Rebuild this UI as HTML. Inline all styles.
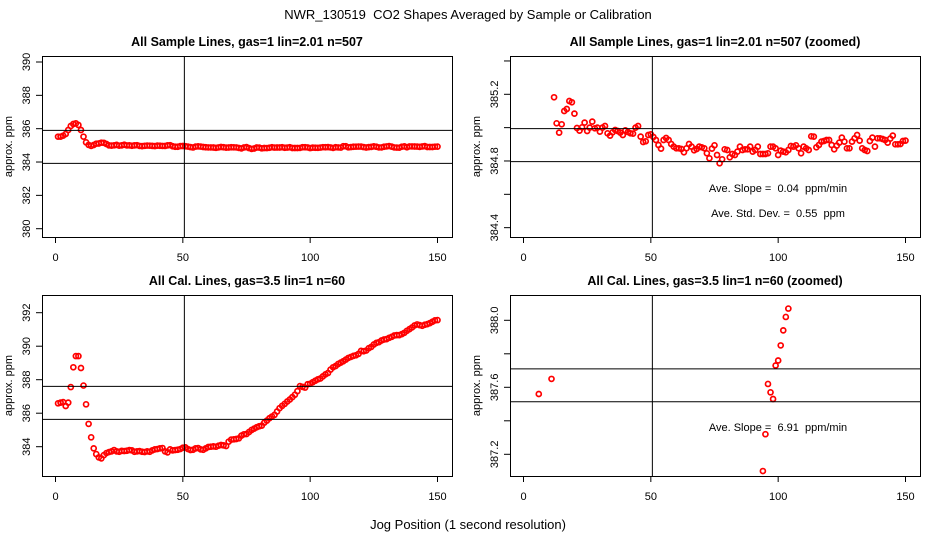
<!DOCTYPE html>
<html><head><meta charset="utf-8"><style>
html,body{margin:0;padding:0;background:#fff;overflow:hidden;width:936px;height:540px;position:relative;}
svg{display:block;position:absolute;left:0;top:0;font-family:"Liberation Sans",sans-serif;overflow:hidden;}
text{white-space:pre;}
</style></head><body>
<svg id="c" width="936" height="540" viewBox="0 0 936 540">
<text x="468" y="19" text-anchor="middle" font-size="13">NWR_130519  CO2 Shapes Averaged by Sample or Calibration</text>
<text x="468" y="529" text-anchor="middle" font-size="13">Jog Position (1 second resolution)</text>
</svg>
<script>
const sampleEarly = [385.52,385.52,385.58,385.68,385.92,386.16,386.28,386.32,386.22,385.92,385.52];
const sampleLate = [385.182,385.026,384.97,385.02,385.1,385.112,385.16,385.152,385.084,384.998,
384.982,385.002,385.03,384.98,385.0,385.036,384.996,385.0,384.976,385.0,
385.01,384.966,384.952,384.972,384.986,384.98,384.97,384.956,384.984,384.974,
384.966,384.964,385.0,385.01,384.946,384.914,384.918,384.956,384.96,384.944,
384.926,384.896,384.874,384.926,384.938,384.926,384.902,384.886,384.876,384.876,
384.872,384.852,384.876,384.902,384.886,384.864,384.872,384.886,384.882,384.876,
384.846,384.816,384.874,384.894,384.836,384.786,384.81,384.87,384.866,384.822,
384.842,384.836,384.856,384.886,384.866,384.87,384.87,384.886,384.856,384.866,
384.886,384.842,384.842,384.842,384.846,384.886,384.886,384.876,384.836,384.862,
384.856,384.852,384.866,384.89,384.886,384.894,384.876,384.846,384.886,384.876,
384.866,384.948,384.946,384.882,384.896,384.916,384.92,384.926,384.926,384.896,
384.87,384.892,384.91,384.94,384.916,384.876,384.876,384.916,384.936,384.956,
384.922,384.876,384.866,384.86,384.92,384.94,384.886,384.936,384.936,384.932,
384.926,384.91,384.934,384.952,384.9,384.9,384.902,384.92,384.922];
const sampleValues = sampleEarly.concat(sampleLate);
const calValues = [386.59,386.63,386.66,386.43,386.63,387.56,388.74,389.41,389.41,388.70,387.65,386.53,385.36,384.56,383.90,383.56,383.36,383.30,383.50,
383.62,383.68,383.72,383.80,383.72,383.70,383.75,383.74,383.76,383.80,383.78,383.70,383.72,383.74,383.70,383.68,383.72,383.70,383.78,383.84,383.86,
383.90,383.92,383.72,383.66,383.84,383.78,383.80,383.82,383.86,383.94,383.96,383.86,383.80,383.82,383.90,383.92,383.84,383.82,383.90,383.98,
384.00,384.02,384.00,384.06,384.10,384.08,384.04,384.30,384.42,384.44,384.46,384.50,384.66,384.74,384.76,384.88,385.00,385.08,385.16,385.22,
385.26,385.44,385.56,385.70,385.80,385.90,386.10,386.30,386.44,386.56,386.70,386.82,386.96,
387.10,387.32,387.62,387.57,387.53,387.73,387.76,387.85,387.94,388.02,388.07,
388.20,388.32,388.40,388.60,388.74,388.82,388.94,389.02,389.10,389.20,389.30,389.36,389.42,389.46,389.54,389.72,389.70,389.74,389.88,389.96,390.10,390.20,390.24,390.34,390.40,390.42,390.50,390.56,390.64,390.66,390.66,390.72,390.80,390.92,391.02,391.12,391.24,391.30,391.26,391.22,391.28,391.32,391.38,391.46,391.54,391.56];
const jogPositions = sampleValues.map((v,i)=>i+1);
const xTicks = [0,50,100,150];
const yTicksSample = [380,382,384,386,388,390];
const yTicksSampleZoom = [384.4,384.6,384.8,385.0,385.2,385.4];
const yLabelsSampleZoom = ['384.4','','384.8','','385.2',''];
const yTicksCal = [384,386,388,390,392];
const yTicksCalZoom = [387.2,387.4,387.6,387.8,388.0];
const yLabelsCalZoom = ['387.2','','387.6','','388.0'];

const NS='http://www.w3.org/2000/svg';
const svg=document.getElementById('c');
function mk(tag,attrs,parent){const e=document.createElementNS(NS,tag);for(const k in attrs)e.setAttribute(k,attrs[k]);(parent||svg).appendChild(e);return e;}

const panels=[
 {name:'sample',title:'All Sample Lines, gas=1 lin=2.01 n=507',L:42,R:452,T:56,B:237,x0:55.5,y0v:390,y0p:62,ppu:16.67,vals:sampleValues,ticks:yTicksSample,labels:yTicksSample.map(String),h:[385.9,383.92],notes:[]},
 {name:'sample-zoomed',title:'All Sample Lines, gas=1 lin=2.01 n=507 (zoomed)',L:510,R:920,T:56,B:237,x0:523.5,y0v:385.2,y0p:94.3,ppu:166.7,vals:sampleValues,ticks:yTicksSampleZoom,labels:yLabelsSampleZoom,h:[384.994,384.796],notes:[['Ave. Slope =  0.04  ppm/min',192,'slope-note'],['Ave. Std. Dev. =  0.55  ppm',217,'std-dev-note']]},
 {name:'cal',title:'All Cal. Lines, gas=3.5 lin=1 n=60',L:42,R:452,T:295,B:476,x0:55.5,y0v:392,y0p:312.7,ppu:16.75,vals:calValues,ticks:yTicksCal,labels:yTicksCal.map(String),h:[387.6,385.63],notes:[]},
 {name:'cal-zoomed',title:'All Cal. Lines, gas=3.5 lin=1 n=60 (zoomed)',L:510,R:920,T:295,B:476,x0:523.5,y0v:388.0,y0p:320.3,ppu:167.5,vals:calValues,ticks:yTicksCalZoom,labels:yLabelsCalZoom,h:[387.71,387.514],notes:[['Ave. Slope =  6.91  ppm/min',431,'slope-note']]}
];
const xppu=(437.5-55.5)/150;
panels.forEach((p,pi)=>{
 const g=mk('g',{});
 
 
 const X=v=>p.x0+v*xppu, Y=v=>p.y0p-(v-p.y0v)*p.ppu;
 const t=mk('text',{x:(p.L+p.R)/2,y:p.T-10,'text-anchor':'middle','font-size':'12.5','font-weight':'bold'},g);
 t.textContent=p.title;
 
 
 const cid='clip'+pi;
 const cp=mk('clipPath',{id:cid},g);mk('rect',{x:p.L,y:p.T,width:p.R-p.L,height:p.B-p.T},cp);
 const pts=mk('g',{'clip-path':'url(#'+cid+')'},g);
 
 
 p.vals.forEach((v,i)=>{
  const c=mk('circle',{cx:X(jogPositions[i]).toFixed(2),cy:Y(v).toFixed(2),r:2.5,fill:'none',stroke:'#f00','stroke-width':1.7},pts);
  
  
 });
 const lines=mk('g',{'clip-path':'url(#'+cid+')',stroke:'#000','stroke-width':1},g);
 p.h.forEach(hv=>{const l=mk('line',{x1:p.L,x2:p.R,y1:Y(hv),y2:Y(hv)},lines);
  
  });
 const vl=mk('line',{x1:X(50.6),x2:X(50.6),y1:p.T,y2:p.B},lines);
 
 
 const box=mk('rect',{x:p.L+0.5,y:p.T+0.5,width:p.R-p.L,height:p.B-p.T,fill:'none',stroke:'#000','stroke-width':1},g);
 
 
 xTicks.forEach(xv=>{
  mk('line',{x1:X(xv),x2:X(xv),y1:p.B,y2:p.B+6,stroke:'#000'},g);
  const tl=mk('text',{x:X(xv),y:p.B+24,'text-anchor':'middle','font-size':'11'},g);
  tl.textContent=String(xv);
  
  
 });
 p.ticks.forEach((tv,i)=>{
  const yy=Y(tv);
  mk('line',{x1:p.L-6,x2:p.L,y1:yy,y2:yy,stroke:'#000'},g);
  if(p.labels[i]){
   const tl=mk('text',{x:0,y:0,'text-anchor':'middle','font-size':'11',transform:`translate(${p.L-12},${yy}) rotate(-90)`},g);
   tl.textContent=p.labels[i];
   
   
  }
 });
 const yl=mk('text',{x:0,y:0,'text-anchor':'middle','font-size':'11',transform:`translate(${p.L-30},${(p.T+p.B)/2}) rotate(-90)`},g);
 yl.textContent='approx. ppm';
 
 
 p.notes.forEach(n=>{
  const nt=mk('text',{x:778,y:n[1],'text-anchor':'middle','font-size':'11'},g);
  nt.textContent=n[0];
  
  
 });
});
</script>
</body></html>
